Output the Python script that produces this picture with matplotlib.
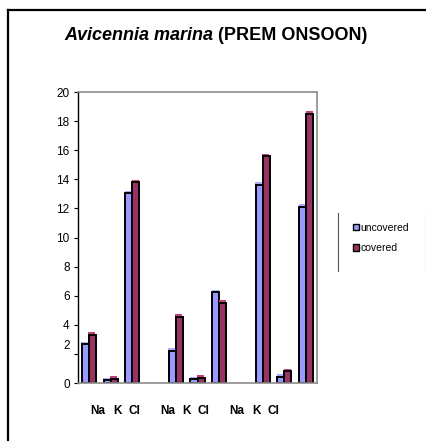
import matplotlib.pyplot as plt
import numpy as np
from matplotlib import patheffects
from matplotlib.patches import Patch
from matplotlib.lines import Line2D
from matplotlib.transforms import ScaledTranslation

plt.rcParams['font.family'] = ['Liberation Sans', 'DejaVu Sans']

ions = ['Na', 'K', 'Cl']
groups = 3
uncovered = [2.65, 0.18, 13.03, 2.22, 0.26, 6.25, 13.64, 0.43, 12.12]
covered = [3.33, 0.30, 13.80, 4.56, 0.37, 5.52, 15.60, 0.82, 18.49]
series_names = ['uncovered', 'covered']
yticks = [0, 2, 4, 6, 8, 10, 12, 14, 16, 18, 20]

blue = '#9999FF'
purple = '#993366'

fig = plt.figure(figsize=(4.26, 4.41), dpi=100)
ax = fig.add_axes([78/426, 1-383/441, 239/426, 291/441])

# slots 0-2, 4-6, 8-10 : one empty slot between groups
x = np.array([g*4 + i for g in range(groups) for i in range(len(ions))])
w = 0.325

def top_glow(c):
    return [patheffects.SimplePatchShadow(offset=(-0.4, 1.8), shadow_rgbFace=c, alpha=1.0),
            patheffects.Normal()]

b1 = ax.bar(x - w/2, uncovered, w, color=blue, edgecolor='black', linewidth=1.4)
b2 = ax.bar(x + w/2, covered, w, color=purple, edgecolor='black', linewidth=1.4)
for r in b1:
    r.set_path_effects(top_glow('#AAAAFF'))
for r in b2:
    r.set_path_effects(top_glow('#C0407A'))

ax.set_xlim(-0.5, 10.5)
ax.set_ylim(0, 20)
ax.set_yticks(yticks)
ax.set_yticklabels([str(t) for t in yticks], fontsize=8.5)
ax.tick_params(axis='y', length=3, width=0.8, pad=3)

# the "2" label sits a little above its tick
lbl = ax.get_yticklabels()[1]
lbl.set_transform(lbl.get_transform() + ScaledTranslation(0, 7/72, fig.dpi_scale_trans))

# category labels under each group
lx = [3.2*g + d for g in range(groups) for d in (0.42, 1.3, 2.08)]
ax.set_xticks(lx)
ax.set_xticklabels(ions * groups, fontsize=8.5, fontweight='bold')
ax.tick_params(axis='x', length=0, pad=16)

for s in ['top', 'right', 'bottom']:
    ax.spines[s].set_color('#8C8C8C')
    ax.spines[s].set_linewidth(1.2)
ax.spines['left'].set_color('black')
ax.spines['left'].set_linewidth(1.0)

fig.text(218/426, 1-35/441, 'Avicennia marina ', ha='right', va='center',
         fontsize=13, fontweight='bold', fontstyle='italic')
fig.text(218/426, 1-35/441, '(PREM ONSOON)', ha='left', va='center',
         fontsize=13, fontweight='bold')

# legend with its side rules
handles = [Patch(facecolor=blue, edgecolor='black', linewidth=1.0),
           Patch(facecolor=purple, edgecolor='black', linewidth=1.0)]
fig.legend(handles, series_names, loc='center left', bbox_to_anchor=(348/426, 1-238/441),
           frameon=False, fontsize=7.5, handlelength=0.6, handleheight=0.6,
           handletextpad=0.1, labelspacing=1.0, borderpad=0)
fig.add_artist(Line2D([338/426, 338/426], [1-213/441, 1-271/441], color='#555555', lw=0.8))
fig.add_artist(Line2D([425.5/426, 425.5/426], [1-213/441, 1-271/441], color='#555555', lw=0.8))

# outer border, top and left only
fig.add_artist(Line2D([7.5/426, 1.0], [1-9.5/441, 1-9.5/441], color='black', lw=1.6))
fig.add_artist(Line2D([7.5/426, 7.5/426], [1-9.5/441, 0], color='black', lw=1.6))

fig.savefig('out.png', dpi=100)
